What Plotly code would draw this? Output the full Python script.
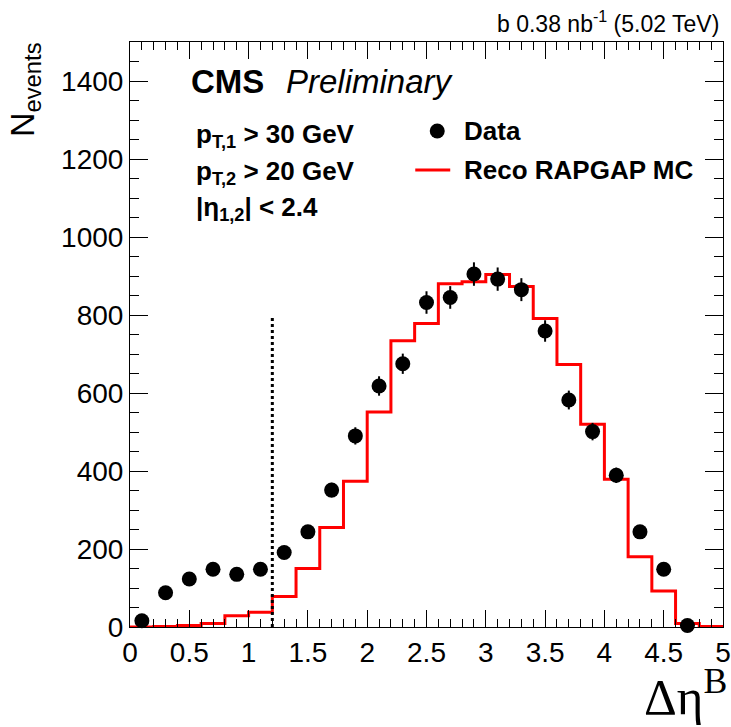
import numpy as np
import plotly.graph_objects as go

# ---- data ----
bin_centers = [0.1, 0.3, 0.5, 0.7, 0.9, 1.1, 1.3, 1.5, 1.7, 1.9, 2.1, 2.3, 2.5,
               2.7, 2.9, 3.1, 3.3, 3.5, 3.7, 3.9, 4.1, 4.3, 4.5, 4.7]
data_counts = [16, 88, 123, 148, 135, 148, 191, 244, 351, 490, 618, 675, 832,
               845, 905, 892, 865, 759, 582, 501, 389, 244, 148, 4]

mc_edges = [0.0, 0.2, 0.4, 0.6, 0.8, 1.0, 1.2, 1.4, 1.6, 1.8, 2.0, 2.2, 2.4,
            2.6, 2.8, 3.0, 3.2, 3.4, 3.6, 3.8, 4.0, 4.2, 4.4, 4.6, 4.8, 5.0]
mc_counts = [0, 1, 4, 9, 29, 38, 78, 150, 255, 374, 551, 734, 778,
             880, 885, 904, 873, 791, 673, 520, 379, 180, 92, 9, 1]

cut_value = 1.2
cut_height = 800

x_range = [0, 5]
y_range = [0, 1500]

data_err = list(np.sqrt(np.array(data_counts, dtype=float)))

W, H = 731, 727
L, R, T, B = 129.5, 8, 42, 100

fig = go.Figure()

fig.add_trace(go.Scatter(
    x=mc_edges, y=mc_counts + [mc_counts[-1]],
    mode="lines", line=dict(color="#ff0000", width=3, shape="hv"),
    name="Reco RAPGAP MC", showlegend=False, cliponaxis=True))

fig.add_trace(go.Scatter(
    x=bin_centers, y=data_counts,
    mode="markers",
    marker=dict(color="black", size=15, symbol="circle"),
    error_y=dict(type="data", array=data_err, color="black", thickness=2, width=0),
    name="Data", showlegend=False, cliponaxis=False))

# cut line
fig.add_shape(type="line", x0=cut_value, x1=cut_value, y0=0, y1=cut_height,
              xref="x", yref="y", line=dict(color="black", width=3, dash="dot"))

font_main = "Liberation Sans, Arial, Helvetica, sans-serif"

axis_common = dict(
    showgrid=False, zeroline=False, showline=True, linecolor="black", linewidth=1,
    mirror="allticks", ticks="inside", tickcolor="black", tickwidth=1,
    automargin=False,
    tickfont=dict(family=font_main, size=28, color="black"),
)

fig.update_xaxes(range=x_range, dtick=0.5, tick0=0, ticklen=17,
                 minor=dict(ticks="inside", ticklen=8, dtick=0.1, tick0=0,
                            tickcolor="black", showgrid=False),
                 **axis_common)
fig.update_yaxes(range=y_range, dtick=200, tick0=0, ticklen=18,
                 minor=dict(ticks="inside", ticklen=9, dtick=50, tick0=0,
                            tickcolor="black", showgrid=False),
                 **axis_common)

def px2paper_x(px):
    return (px - L) / (W - L - R)

def px2paper_y(py):
    return (H - B - py) / (H - T - B)

annotations = [
    dict(text="b 0.38 nb<sup>-1</sup> (5.02 TeV)", x=px2paper_x(721), y=px2paper_y(22),
         xanchor="right", yanchor="middle", font=dict(family=font_main, size=23, color="black")),
    dict(text="<b>CMS</b>", x=px2paper_x(189), y=px2paper_y(81),
         xanchor="left", yanchor="middle", font=dict(family=font_main, size=33, color="black")),
    dict(text="<i>Preliminary</i>", x=px2paper_x(284), y=px2paper_y(81),
         xanchor="left", yanchor="middle", font=dict(family=font_main, size=33, color="black")),
    dict(text="<b>p<sub>T,1</sub> > 30 GeV</b>", x=px2paper_x(194), y=px2paper_y(135),
         xanchor="left", yanchor="middle", font=dict(family=font_main, size=26, color="black")),
    dict(text="<b>p<sub>T,2</sub> > 20 GeV</b>", x=px2paper_x(194), y=px2paper_y(172),
         xanchor="left", yanchor="middle", font=dict(family=font_main, size=26, color="black")),
    dict(text="<b>|η<sub>1,2</sub>| < 2.4</b>", x=px2paper_x(194), y=px2paper_y(208),
         xanchor="left", yanchor="middle", font=dict(family=font_main, size=26, color="black")),
    dict(text="<b>Data</b>", x=px2paper_x(462), y=px2paper_y(131),
         xanchor="left", yanchor="middle", font=dict(family=font_main, size=26, color="black")),
    dict(text="<b>Reco RAPGAP MC</b>", x=px2paper_x(462), y=px2paper_y(170),
         xanchor="left", yanchor="middle", font=dict(family=font_main, size=26, color="black")),
    dict(text="N<sub>events</sub>", x=px2paper_x(24), y=px2paper_y(40),
         xanchor="center", yanchor="top", textangle=-90,
         font=dict(family=font_main, size=34, color="black")),
    dict(text="Δη<sup>B</sup>", x=px2paper_x(729), y=px2paper_y(727),
         xanchor="right", yanchor="bottom",
         font=dict(family="Liberation Serif, Times New Roman, serif", size=51, color="black")),
]
for a in annotations:
    a.update(xref="paper", yref="paper", showarrow=False)
fig.update_layout(annotations=annotations)

# legend symbols (drawn in paper coords)
fig.add_shape(type="circle", xref="paper", yref="paper",
              x0=px2paper_x(437 - 7.5), x1=px2paper_x(437 + 7.5),
              y0=px2paper_y(131 + 7.5), y1=px2paper_y(131 - 7.5),
              fillcolor="black", line=dict(color="black", width=0))
fig.add_shape(type="line", xref="paper", yref="paper",
              x0=px2paper_x(415), x1=px2paper_x(450),
              y0=px2paper_y(170), y1=px2paper_y(170),
              line=dict(color="#ff0000", width=3))

fig.update_layout(
    width=W, height=H,
    margin=dict(l=L, r=R, t=T, b=B, pad=0, autoexpand=False),
    paper_bgcolor="white", plot_bgcolor="white",
    showlegend=False,
)

fig.write_html("out.html")
